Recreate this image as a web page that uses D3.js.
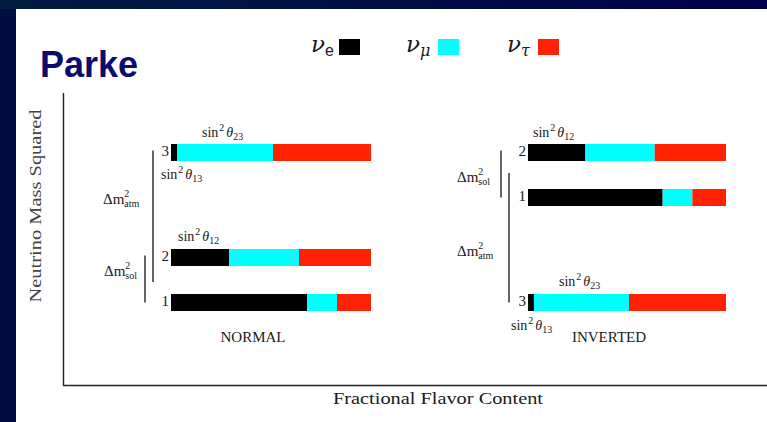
<!DOCTYPE html>
<html>
<head>
<meta charset="utf-8">
<script src="https://cdn.jsdelivr.net/npm/d3@7"></script>
<style>
  html, body { margin: 0; padding: 0; background: #000c3e; }
  svg { display: block; }
  .serif { font-family: "Liberation Serif", "DejaVu Serif", serif; fill: #1a1a1a; }
</style>
</head>
<body>
<svg id="chart" width="767" height="422"></svg>
<script>
// Flavor content of each mass eigenstate (fractions of the bar)
const states = ["1", "2", "3"];
const flavors = ["νe", "νμ", "ντ"];
const nuE   = [0.68, 0.29, 0.03];
const nuMu  = [0.15, 0.35, 0.48];
const nuTau = [0.17, 0.36, 0.49];
const flavorColors = ["#000000", "#00ffff", "#ff2200"];

// Relative mass-squared level of states 1,2,3 in each ordering
const normalLevels   = [0, 45, 150];
const invertedLevels = [105, 150, 0];
const orderings = ["NORMAL", "INVERTED"];

const svg = d3.select("#chart");
const W = 767, H = 422;

// Slide background and white panel
const grad = svg.append("defs").append("linearGradient").attr("id", "bg")
  .attr("x1", 0).attr("x2", 1).attr("y1", 0).attr("y2", 0);
grad.append("stop").attr("offset", 0).attr("stop-color", "#001c40");
grad.append("stop").attr("offset", 1).attr("stop-color", "#00004c");
svg.append("rect").attr("width", W).attr("height", H).attr("fill", "url(#bg)");
svg.append("rect").attr("x", 0).attr("y", 9).attr("width", 16).attr("height", H)
  .attr("fill", "#000c42");
svg.append("rect").attr("x", 16).attr("y", 9).attr("width", W - 16).attr("height", H - 9)
  .attr("fill", "#ffffff");

// Title
svg.append("text").attr("x", 40).attr("y", 77)
  .attr("font-family", "Liberation Sans, Arial, sans-serif")
  .attr("font-weight", "bold").attr("font-size", 36)
  .attr("fill", "#0c0c6e").text("Parke");

// Legend
const legendX = [311, 406, 507];
const boxX = [339, 438, 538];
const subs = ["e", "μ", "τ"];
flavors.forEach((f, i) => {
  const t = svg.append("text").attr("x", legendX[i]).attr("y", 52)
    .attr("fill", "#1a1a1a");
  t.append("tspan").attr("font-family", "DejaVu Serif, serif")
    .attr("font-style", "italic").attr("font-size", 23).text("ν");
  const s = t.append("tspan").attr("dy", 4).attr("dx", 0);
  if (i === 0) s.attr("font-family", "Liberation Sans, Arial, sans-serif").attr("font-size", 16);
  else s.attr("font-family", "DejaVu Serif, serif").attr("font-style", "italic").attr("font-size", 16);
  s.text(subs[i]);
  svg.append("rect").attr("x", boxX[i]).attr("y", 39).attr("width", 21).attr("height", 16)
    .attr("fill", flavorColors[i]);
});

// Axes
const axisG = svg.append("g");
axisG.append("line").attr("x1", 63.5).attr("x2", 63.5).attr("y1", 93).attr("y2", 385.5)
  .attr("stroke", "#222").attr("stroke-width", 1.4);
axisG.append("line").attr("x1", 63).attr("x2", W).attr("y1", 385.5).attr("y2", 385.5)
  .attr("stroke", "#222").attr("stroke-width", 1.6);

svg.append("text").attr("class", "serif")
  .attr("transform", "translate(41,206) rotate(-90)")
  .attr("text-anchor", "middle").attr("font-size", 17)
  .attr("textLength", 193).attr("lengthAdjust", "spacingAndGlyphs")
  .style("fill", "#444")
  .text("Neutrino Mass Squared");

svg.append("text").attr("class", "serif")
  .attr("x", 438).attr("y", 404).attr("text-anchor", "middle").attr("font-size", 17)
  .attr("textLength", 210).attr("lengthAdjust", "spacingAndGlyphs")
  .text("Fractional Flavor Content");

// Shared vertical scale: mass-squared level -> bar centre
const y = d3.scaleLinear().domain([0, 150]).range([302.5, 152.5]);
const barH = 17;

// Per-ordering horizontal scales for flavor fractions
const panels = [
  { name: orderings[0], levels: normalLevels,   x: d3.scaleLinear().domain([0, 1]).range([171, 371]) },
  { name: orderings[1], levels: invertedLevels, x: d3.scaleLinear().domain([0, 1]).range([528, 726]) }
];

const fractions = states.map((s, i) => [nuE[i], nuMu[i], nuTau[i]]);

function sinLabel(g, x, yy, sub) {
  const t = g.append("text").attr("class", "serif").attr("x", x).attr("y", yy).attr("font-size", 14);
  t.append("tspan").text("sin");
  t.append("tspan").attr("font-size", 10).attr("dy", -6).attr("dx", 1).text("2");
  t.append("tspan").attr("font-style", "italic").attr("dy", 6).attr("dx", 2).text("θ");
  t.append("tspan").attr("font-size", 10).attr("dy", 3).text(sub);
}

function dmLabel(g, x, yy, sub) {
  const t = g.append("text").attr("class", "serif").attr("x", x).attr("y", yy).attr("font-size", 15);
  t.append("tspan").text("Δm");
  t.append("tspan").attr("font-size", 10).attr("dy", -7).text("2");
  t.append("tspan").attr("font-size", 10).attr("dx", -5).attr("dy", 10).text(sub);
}

panels.forEach(p => {
  const g = svg.append("g");
  const x = p.x;
  states.forEach((s, i) => {
    const cy = y(p.levels[i]);
    let acc = 0;
    fractions[i].forEach((f, k) => {
      g.append("rect")
        .attr("x", x(acc)).attr("width", x(acc + f) - x(acc))
        .attr("y", cy - barH / 2).attr("height", barH)
        .attr("fill", flavorColors[k]);
      acc += f;
    });
    g.append("text").attr("class", "serif")
      .attr("x", x(0) - 2).attr("y", cy + 3).attr("text-anchor", "end")
      .attr("font-size", 15).text(s);
  });

  const y1 = y(p.levels[0]), y2 = y(p.levels[1]), y3 = y(p.levels[2]);
  const mid12 = (y1 + y2) / 2;
  g.append("text").attr("class", "serif")
    .attr("x", (x(0) + x(1)) / 2 - 18).attr("y", 342).attr("text-anchor", "middle")
    .attr("font-size", 15).text(p.name);

  if (p.name === "NORMAL") {
    // atmospheric splitting: state 3 down to the 1–2 pair
    g.append("line").attr("x1", 153).attr("x2", 153).attr("y1", y3 - 2).attr("y2", mid12 + 2)
      .attr("stroke", "#111").attr("stroke-width", 1.3);
    g.append("line").attr("x1", 145).attr("x2", 145).attr("y1", y2 - 2).attr("y2", y1)
      .attr("stroke", "#111").attr("stroke-width", 1.3);
    dmLabel(g, 103, 204, "atm");
    dmLabel(g, 104, 276, "sol");
    sinLabel(g, 202, 137, "23");
    sinLabel(g, 161, 179, "13");
    sinLabel(g, 178, 241, "12");
  } else {
    g.append("line").attr("x1", 501).attr("x2", 501).attr("y1", y2 - 2).attr("y2", y1)
      .attr("stroke", "#111").attr("stroke-width", 1.3);
    g.append("line").attr("x1", 509).attr("x2", 509).attr("y1", mid12 - 2).attr("y2", y3)
      .attr("stroke", "#111").attr("stroke-width", 1.3);
    dmLabel(g, 457, 182, "sol");
    dmLabel(g, 457, 256, "atm");
    sinLabel(g, 533, 137, "12");
    sinLabel(g, 559, 286, "23");
    sinLabel(g, 511, 330, "13");
  }
});
</script>
</body>
</html>
